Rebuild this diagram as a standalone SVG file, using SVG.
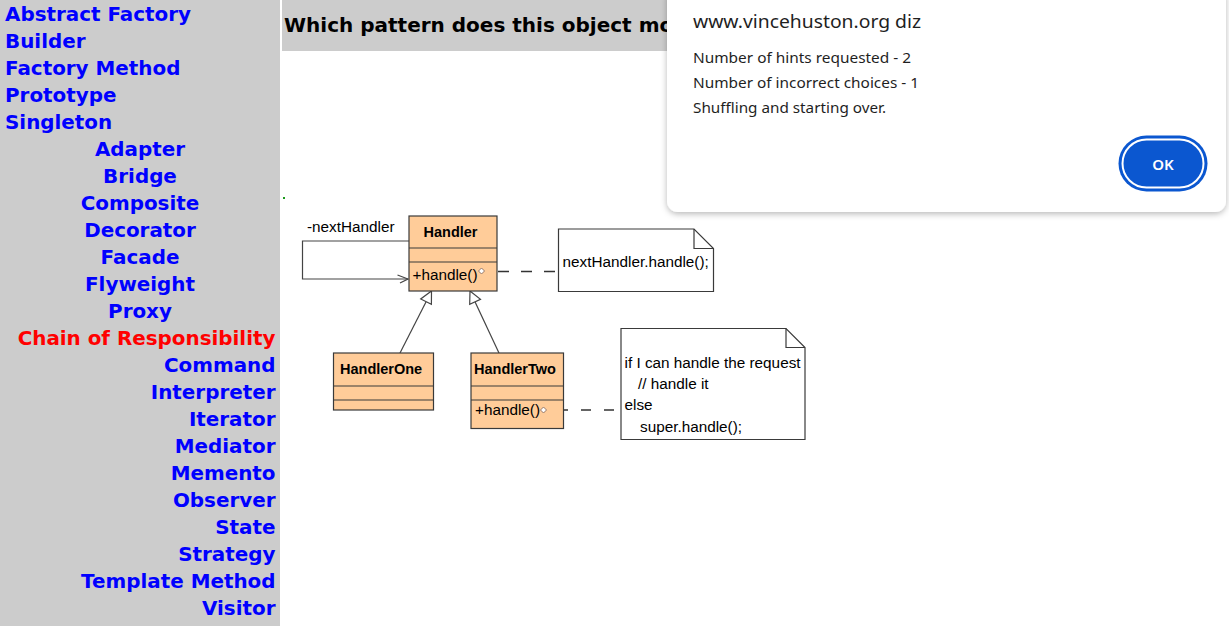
<svg xmlns="http://www.w3.org/2000/svg" width="1229" height="626" viewBox="0 0 1229 626">
<style>
.nav{font-family:"DejaVu Sans","Verdana",sans-serif;font-weight:bold;font-size:19.9px;fill:#0000ff}
.nav.cur{fill:#ff0000}
.l{text-anchor:start}
.c{text-anchor:middle}
.r{text-anchor:end}
.hdr{font-family:"DejaVu Sans","Verdana",sans-serif;font-weight:bold;font-size:20px;fill:#000}
.box{fill:#ffcc99;stroke:#3a3a3a;stroke-width:1.2}
.sep{stroke:#3a3a3a;stroke-width:1.2}
.cls{font-family:"Liberation Sans",Arial,sans-serif;font-weight:bold;font-size:14.5px;fill:#000}
.uml{font-family:"Liberation Sans",Arial,sans-serif;font-size:15.3px;fill:#000}
.note{fill:#fff;stroke:#3a3a3a;stroke-width:1.2}
.fold{fill:none;stroke:#3a3a3a;stroke-width:1.2}
.ln{fill:none;stroke:#444;stroke-width:1.2}
.dash{fill:none;stroke:#333;stroke-width:1.4}
.tri{fill:#fff;stroke:#444;stroke-width:1.2}
.dia{fill:#fff;stroke:#8a6a5a;stroke-width:0.9}
.dlg{font-family:"Noto Sans","Open Sans",sans-serif;fill:#1f1f1f}
</style>
<defs>
<filter id="sh" x="-10%" y="-20%" width="120%" height="140%">
<feDropShadow dx="0" dy="2" stdDeviation="3" flood-color="#000" flood-opacity="0.28"/>
</filter>
</defs>
<rect x="0" y="0" width="1229" height="626" fill="#fff"/>
<g id="sidebar">
<rect x="0" y="0" width="280" height="626" fill="#cccccc"/>
<text class="nav l" x="5" y="21">Abstract Factory</text>
<text class="nav l" x="5" y="48">Builder</text>
<text class="nav l" x="5" y="75">Factory Method</text>
<text class="nav l" x="5" y="102">Prototype</text>
<text class="nav l" x="5" y="129">Singleton</text>
<text class="nav c" x="140" y="156">Adapter</text>
<text class="nav c" x="140" y="183">Bridge</text>
<text class="nav c" x="140" y="210">Composite</text>
<text class="nav c" x="140" y="237">Decorator</text>
<text class="nav c" x="140" y="264">Facade</text>
<text class="nav c" x="140" y="291">Flyweight</text>
<text class="nav c" x="140" y="318">Proxy</text>
<text class="nav cur r" x="275.5" y="345">Chain of Responsibility</text>
<text class="nav r" x="275.5" y="372">Command</text>
<text class="nav r" x="275.5" y="399">Interpreter</text>
<text class="nav r" x="275.5" y="426">Iterator</text>
<text class="nav r" x="275.5" y="453">Mediator</text>
<text class="nav r" x="275.5" y="480">Memento</text>
<text class="nav r" x="275.5" y="507">Observer</text>
<text class="nav r" x="275.5" y="534">State</text>
<text class="nav r" x="275.5" y="561">Strategy</text>
<text class="nav r" x="275.5" y="588">Template Method</text>
<text class="nav r" x="275.5" y="615">Visitor</text>
</g>
<g id="header">
<rect x="282" y="0" width="440" height="51" fill="#cccccc"/>
<text class="hdr" x="284" y="32">Which pattern does this object mo</text>
</g>
<rect x="283" y="197" width="2" height="2" fill="#1a9a1a"/>
<g id="connectors">
<polyline class="ln" points="409,241 302.5,241 302.5,279 408,279"/>
<polyline class="ln" points="397.5,275 408,279 400,283"/>
<text class="uml" x="307" y="232">-nextHandler</text>
<line class="ln" x1="426.1" y1="301.7" x2="400" y2="353"/>
<polygon class="tri" points="431.5,291 431.4,304.4 420.7,299"/>
<line class="ln" x1="475.1" y1="301.9" x2="499" y2="353"/>
<polygon class="tri" points="470,291 480.5,299.4 469.7,304.4"/>
<line class="dash" x1="498" y1="271.5" x2="558.5" y2="271.5" stroke-dasharray="11,12"/>
<line class="dash" x1="558" y1="410" x2="621" y2="410" stroke-dasharray="10,13"/>
</g>
<g id="handler">
<rect class="box" x="409" y="216" width="88" height="75"/>
<line class="sep" x1="409" y1="248" x2="497" y2="248"/>
<line class="sep" x1="409" y1="262" x2="497" y2="262"/>
<text class="cls" x="423.5" y="236.5">Handler</text>
<text class="uml" x="412.5" y="280">+handle()</text>
<polygon class="dia" points="481.5,268 484.5,271 481.5,274 478.5,271"/>
</g>
<g id="handlerOne">
<rect class="box" x="333.5" y="353" width="100" height="57"/>
<line class="sep" x1="333.5" y1="386" x2="433.5" y2="386"/>
<line class="sep" x1="333.5" y1="400" x2="433.5" y2="400"/>
<text class="cls" x="340" y="373.5">HandlerOne</text>
</g>
<g id="handlerTwo">
<rect class="box" x="471" y="353" width="92.5" height="75.5"/>
<line class="sep" x1="471" y1="386" x2="563.5" y2="386"/>
<line class="sep" x1="471" y1="400" x2="563.5" y2="400"/>
<text class="cls" x="474" y="373.5">HandlerTwo</text>
<text class="uml" x="475" y="415">+handle()</text>
<polygon class="dia" points="543.5,407 546.5,410 543.5,413 540.5,410"/>
</g>
<g id="note1">
<path class="note" d="M558.5,229 H694 L713.5,248.5 V291.5 H558.5 Z"/>
<path class="fold" d="M694,229 V248.5 H713.5"/>
<text class="uml" x="562.5" y="267">nextHandler.handle();</text>
</g>
<g id="note2">
<path class="note" d="M621,328.5 H786 L805,347.5 V439.5 H621 Z"/>
<path class="fold" d="M786,328.5 V347.5 H805"/>
<text class="uml" x="624.5" y="368">if I can handle the request</text>
<text class="uml" x="638" y="389">// handle it</text>
<text class="uml" x="624.5" y="410">else</text>
<text class="uml" x="640" y="432">super.handle();</text>
</g>
<g id="dialog">
<rect x="667" y="-14" width="559" height="226" rx="11" fill="#fff" filter="url(#sh)"/>
<text class="dlg" x="693" y="27.5" font-size="18" textLength="228" lengthAdjust="spacingAndGlyphs">www.vincehuston.org diz</text>
<text class="dlg" x="693" y="63" font-size="14.5" textLength="218" lengthAdjust="spacingAndGlyphs">Number of hints requested - 2</text>
<text class="dlg" x="693" y="88" font-size="14.5" textLength="226" lengthAdjust="spacingAndGlyphs">Number of incorrect choices - 1</text>
<text class="dlg" x="693" y="113" font-size="14.5" textLength="193" lengthAdjust="spacingAndGlyphs">Shuffling and starting over.</text>
<g id="okButton">
<rect x="1118.5" y="135.5" width="89" height="56" rx="28" fill="#0b57d0"/>
<rect x="1122.5" y="139.5" width="81" height="48" rx="24" fill="#0b57d0" stroke="#fff" stroke-width="2"/>
<text x="1163" y="169.5" text-anchor="middle" font-family="'Noto Sans','Open Sans',sans-serif" font-weight="600" font-size="15" fill="#fff">OK</text>
</g>
</g>
</svg>
